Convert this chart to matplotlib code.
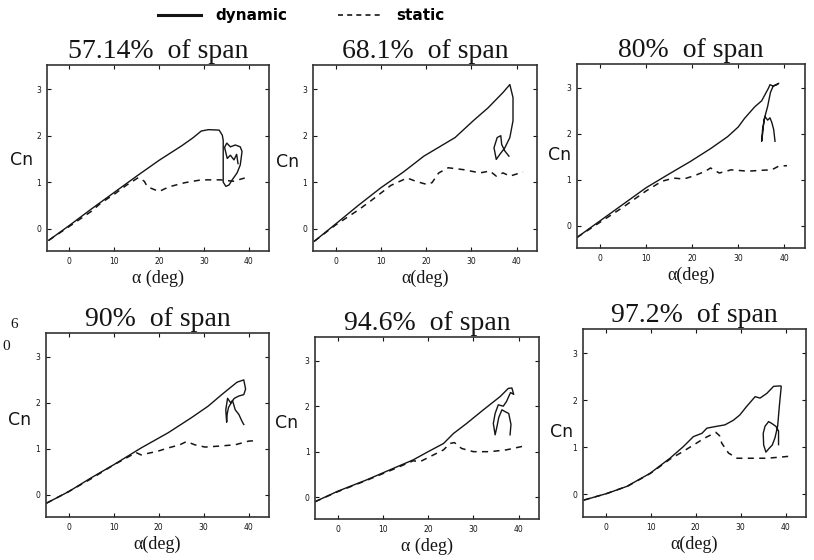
import matplotlib
matplotlib.use("Agg")
import matplotlib.pyplot as plt
from matplotlib.lines import Line2D

# ------------------------------------------------------------------
# Data (alpha in deg, Cn)
# ------------------------------------------------------------------
titles = ["57.14%  of span", "68.1%  of span", "80%  of span",
          "90%  of span", "94.6%  of span", "97.2%  of span"]
xlabels = ["\u03b1 (deg)", "\u03b1(deg)", "\u03b1(deg)",
           "\u03b1(deg)", "\u03b1 (deg)", "\u03b1(deg)"]
xticks = [0, 10, 20, 30, 40]
yticks = [0, 1, 2, 3]

# 57.14 %
dyn1_alpha = [-4.6, 0, 5, 10, 15, 20, 25, 27.5, 29.4, 31, 33.4, 34.1, 34.3, 34.3, 34.3,
              34.9, 35.6, 36.3, 37.4, 38.1, 38.5, 38.1, 37.0, 35.9, 35.1, 34.6, 35.2,
              35.9, 36.7, 37.3, 37.6]
dyn1_cn = [-0.25, 0.07, 0.43, 0.78, 1.13, 1.47, 1.78, 1.95, 2.1, 2.13, 2.12, 2.01, 1.9, 1.4, 1.0,
           0.91, 0.94, 1.05, 1.2, 1.37, 1.66, 1.76, 1.8, 1.76, 1.84, 1.75, 1.51,
           1.58, 1.48, 1.6, 1.4]
sta1_alpha = [-4.6, 0, 5, 7, 10, 12.8, 15.4, 16.7, 17.4, 20, 22.2, 25.8, 29.4, 33.7, 36.6, 39.1]
sta1_cn = [-0.25, 0.05, 0.38, 0.55, 0.74, 0.94, 1.1, 1.02, 0.9, 0.8, 0.9, 0.99, 1.05, 1.05, 1.02, 1.09]

# 68.1 %
dyn2_alpha = [-4.7, 0, 5, 10, 15, 19.5, 26.4, 30.4, 33.7, 34.5, 37, 38.5, 39.2, 39.2, 38.5,
              37.4, 36.3, 35.5, 35, 35.7, 36.5, 36.7, 37.4, 38.3]
dyn2_cn = [-0.27, 0.1, 0.5, 0.88, 1.22, 1.56, 1.96, 2.32, 2.6, 2.68, 2.93, 3.1, 2.82, 2.32, 1.96,
           1.74, 1.6, 1.49, 1.74, 1.96, 2.0, 1.81, 1.67, 1.56]
sta2_alpha = [-4.7, 0, 5, 7.8, 12.2, 15.8, 17.7, 20.2, 21.3, 22.8, 24.9, 28.2, 31.9, 34.1,
              35.5, 37, 38.5, 41.4]
sta2_cn = [-0.27, 0.08, 0.4, 0.6, 0.93, 1.09, 1.02, 0.95, 0.99, 1.2, 1.31, 1.27, 1.2, 1.24,
           1.13, 1.2, 1.13, 1.22]

# 80 %
dyn3_alpha = [-5, 0, 5, 10, 15, 19.6, 24, 27.7, 30, 31.4, 33.6, 35.1, 35.8, 36.6, 36.9, 37.6,
              38.4, 38.8, 37.6, 37.0, 36.4, 35.6, 35.3, 35.1, 35.3, 35.8, 36.4, 36.9, 37.3,
              37.7, 38.0]
dyn3_cn = [-0.25, 0.11, 0.47, 0.83, 1.13, 1.4, 1.68, 1.94, 2.15, 2.34, 2.59, 2.72, 2.85, 3.0,
           3.07, 3.04, 3.07, 3.1, 3.04, 2.9, 2.6, 2.3, 2.0, 1.84, 2.1, 2.38, 2.3, 2.35, 2.25,
           2.1, 1.84]
sta3_alpha = [-5, 0, 4.9, 10, 13.4, 16, 18.2, 20.7, 22.9, 24, 25.9, 28.5, 32.1, 35.1, 37.3,
              38.8, 40.6]
sta3_cn = [-0.25, 0.08, 0.4, 0.76, 0.97, 1.04, 1.02, 1.1, 1.19, 1.26, 1.15, 1.22, 1.19, 1.21,
           1.22, 1.3, 1.31]

# 90 %
dyn4_alpha = [-4.9, 0, 5, 10.1, 16.1, 22.1, 27.3, 31, 34, 35.5, 37.4, 38.9, 39.3, 38.9, 37.8,
              36.8, 36.0, 35.3, 34.9, 35.1, 35.2, 35.5, 36.4, 37.0, 37.8, 38.5, 38.9]
dyn4_cn = [-0.18, 0.07, 0.37, 0.66, 1.02, 1.35, 1.68, 1.93, 2.18, 2.3, 2.45, 2.5, 2.3, 2.18, 2.15,
           2.1, 2.0, 2.1, 1.85, 1.58, 1.75, 1.9, 2.05, 1.85, 1.75, 1.6, 1.53]
sta4_alpha = [-4.9, 0, 5, 10, 15, 16.1, 19.8, 22.1, 24.7, 26.2, 28, 30.3, 33.3, 37, 40, 41.9]
sta4_cn = [-0.18, 0.07, 0.35, 0.65, 0.92, 0.87, 0.95, 1.02, 1.09, 1.16, 1.09, 1.04, 1.06, 1.09,
           1.17, 1.18]

# 94.6 %
dyn5_alpha = [-5, 0, 6.4, 12, 16.7, 20, 23.4, 25.6, 28.5, 32.2, 35.9, 37.7, 38.5, 38.9, 38.2,
              37.3, 36.6, 35.5, 34.8, 34.4, 34.8, 35.2, 35.6, 36.3, 37.0, 37.8, 38.3, 38.1]
dyn5_cn = [-0.1, 0.13, 0.38, 0.62, 0.82, 1.0, 1.18, 1.4, 1.62, 1.92, 2.21, 2.39, 2.4, 2.26, 2.3,
           2.1, 2.0, 2.03, 1.84, 1.62, 1.37, 1.55, 1.75, 1.92, 1.88, 1.84, 1.6, 1.37]
sta5_alpha = [-5, 0, 6.4, 12, 16.7, 18.2, 20.4, 23.4, 24.8, 25.8, 27.4, 30, 33.7, 37.3, 41]
sta5_cn = [-0.1, 0.12, 0.37, 0.6, 0.8, 0.78, 0.89, 1.04, 1.18, 1.2, 1.07, 1.0, 1.0, 1.04, 1.12]

# 97.2 %
dyn6_alpha = [-4.8, 0.3, 4.7, 9.9, 14.3, 17.3, 19.5, 21.4, 22.5, 24.7, 26.5, 28.4, 29.8, 31.3,
              33.2, 34.3, 35.8, 37.3, 38.8, 39.0, 38.6, 38.2, 37.6, 37.0, 36.3, 35.6, 35.1,
              35.0, 35.4, 36.2, 36.9, 37.8, 38.4, 38.4]
dyn6_cn = [-0.12, 0.02, 0.17, 0.45, 0.77, 1.02, 1.23, 1.3, 1.41, 1.45, 1.48, 1.58, 1.69, 1.87,
           2.08, 2.05, 2.15, 2.3, 2.31, 2.3, 1.9, 1.45, 1.2, 1.05, 0.98, 0.9, 1.05,
           1.3, 1.45, 1.55, 1.51, 1.45, 1.35, 1.06]
sta6_alpha = [-4.8, 0.3, 5, 10, 14.3, 17.3, 19.5, 22, 24.5, 25.3, 25.8, 27.3, 29.2, 32.1, 35.8,
              39.5, 41.7]
sta6_cn = [-0.12, 0.02, 0.18, 0.45, 0.75, 0.92, 1.05, 1.2, 1.32, 1.25, 1.09, 0.88, 0.77, 0.77,
           0.77, 0.8, 0.82]

dyn_alpha = [dyn1_alpha, dyn2_alpha, dyn3_alpha, dyn4_alpha, dyn5_alpha, dyn6_alpha]
dyn_cn = [dyn1_cn, dyn2_cn, dyn3_cn, dyn4_cn, dyn5_cn, dyn6_cn]
sta_alpha = [sta1_alpha, sta2_alpha, sta3_alpha, sta4_alpha, sta5_alpha, sta6_alpha]
sta_cn = [sta1_cn, sta2_cn, sta3_cn, sta4_cn, sta5_cn, sta6_cn]

# ------------------------------------------------------------------
# Layout (figure fractions)
# ------------------------------------------------------------------
AX_POS = [
    [0.0577, 0.5518, 0.2727, 0.3321],
    [0.3845, 0.5518, 0.2752, 0.3321],
    [0.7088, 0.5571, 0.2801, 0.3286],
    [0.0565, 0.0768, 0.2740, 0.3286],
    [0.3870, 0.0732, 0.2752, 0.3250],
    [0.7162, 0.0768, 0.2740, 0.3357],
]
CN_POS = [(22, 160), (288, 162), (560, 155), (20, 420), (287, 423), (562, 432)]

W, H = 814, 560
INK = "#151515"
SERIF = ["Liberation Serif", "DejaVu Serif"]

fig = plt.figure(figsize=(W / 100, H / 100), dpi=100)

for i in range(6):
    ax = fig.add_axes(AX_POS[i])
    ax.plot(dyn_alpha[i], dyn_cn[i], color=INK, linewidth=1.0)
    ax.plot(sta_alpha[i], sta_cn[i], color=INK, linewidth=1.1,
            linestyle=(0, (4, 3.5)))
    ax.set_xlim(-5, 44.5)
    ax.set_ylim(-0.48, 3.52)
    ax.set_xticks(xticks)
    ax.set_yticks(yticks)
    ax.tick_params(direction="in", length=3, width=0.8, labelsize=5.5,
                   top=True, right=True, pad=4, colors=INK)
    for sp in ax.spines.values():
        sp.set_linewidth(1.2)
        sp.set_color("#333333")
    ax.set_title(titles[i], fontsize=20, family=SERIF, color=INK, pad=5)
    ax.set_xlabel(xlabels[i], fontsize=13, family=SERIF, color=INK, labelpad=3)
    fig.text(CN_POS[i][0] / W, 1 - CN_POS[i][1] / H, "Cn", fontsize=12.5,
             ha="center", va="center", color=INK)

# legend strip at the top
handles = [Line2D([], [], color=INK, linewidth=2.2),
           Line2D([], [], color=INK, linewidth=1.2, linestyle=(0, (3, 2.5)))]
fig.legend(handles, ["dynamic", "static"], loc="center", ncol=2,
           bbox_to_anchor=(0.37, 0.972), frameon=False, handlelength=2.8,
           columnspacing=3.3, handletextpad=1.0,
           prop={"weight": "bold", "size": 11})

# stray characters bleeding in from the neighbouring page
fig.text(14 / W, 1 - 324 / H, "6", fontsize=11, family=SERIF, ha="center",
         va="center", color=INK)
fig.text(6 / W, 1 - 346 / H, "0", fontsize=11, family=SERIF, ha="center",
         va="center", color=INK)

fig.savefig("out.png", dpi=100)
